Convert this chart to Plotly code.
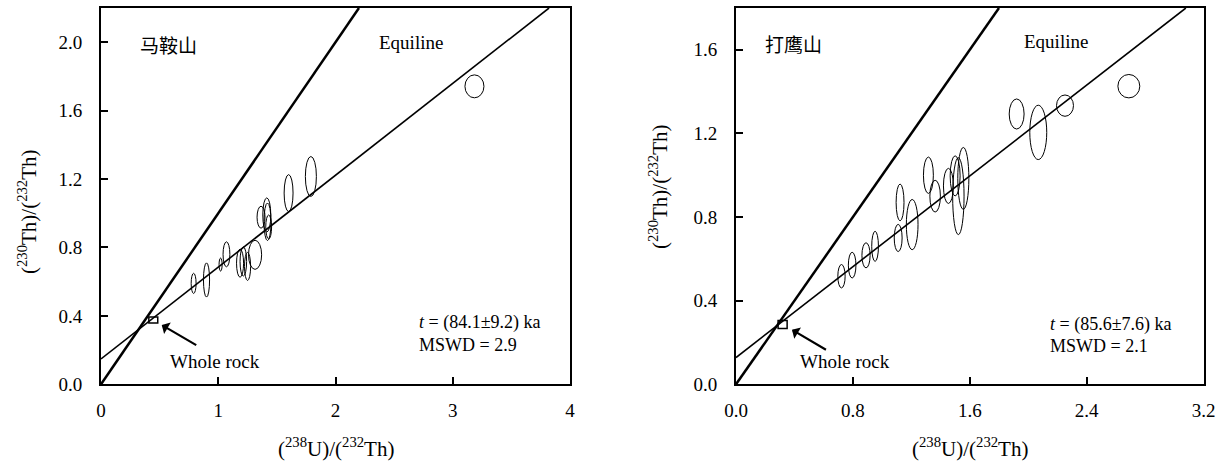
import plotly.graph_objects as go

# ---------------- data ----------------
# Left panel: 马鞍山
left_x  = [0.79, 0.90, 1.02, 1.07, 1.186, 1.214, 1.25, 1.314, 1.365, 1.414, 1.42, 1.43, 1.60, 1.79, 3.185]
left_y  = [0.59, 0.61, 0.70, 0.76, 0.708, 0.718, 0.689, 0.757, 0.977, 0.99, 0.95, 0.92, 1.118, 1.215, 1.742]
left_ex = [0.021, 0.026, 0.013, 0.029, 0.030, 0.028, 0.026, 0.056, 0.034, 0.034, 0.030, 0.025, 0.038, 0.047, 0.081]
left_ey = [0.059, 0.100, 0.038, 0.073, 0.082, 0.085, 0.082, 0.085, 0.064, 0.100, 0.110, 0.070, 0.108, 0.117, 0.067]
left_wr = (0.446, 0.376)      # whole rock
left_wr_err = (0.038, 0.018)
left_intercept = 0.148
left_slope = 0.537

# Right panel: 打鹰山
right_x  = [0.722, 0.795, 0.89, 0.952, 1.123, 1.11, 1.206, 1.317, 1.363, 1.454, 1.50, 1.522, 1.556, 1.921, 2.069, 2.252, 2.689]
right_y  = [0.517, 0.570, 0.617, 0.660, 0.870, 0.700, 0.764, 1.000, 0.900, 0.949, 0.997, 0.900, 0.985, 1.293, 1.205, 1.333, 1.426]
right_ex = [0.025, 0.026, 0.028, 0.023, 0.027, 0.027, 0.040, 0.034, 0.036, 0.034, 0.034, 0.039, 0.038, 0.051, 0.058, 0.058, 0.075]
right_ey = [0.056, 0.0615, 0.060, 0.072, 0.088, 0.065, 0.120, 0.087, 0.076, 0.084, 0.096, 0.184, 0.148, 0.072, 0.130, 0.051, 0.056]
right_wr = (0.319, 0.286)
right_wr_err = (0.031, 0.019)
right_intercept = 0.128
right_slope = 0.543

left_xticks = [0, 1, 2, 3, 4]
left_xticktext = ["0", "1", "2", "3", "4"]
left_yticks = [0.0, 0.4, 0.8, 1.2, 1.6, 2.0]
right_xticks = [0.0, 0.8, 1.6, 2.4, 3.2]
right_yticks = [0.0, 0.4, 0.8, 1.2, 1.6]

left_range_x = [0, 4]
left_range_y = [0, 2.2]
right_range_x = [0, 3.2]
right_range_y = [0, 1.8]

left_title = "马鞍山"
right_title = "打鹰山"
left_age = "<i>t</i> = (84.1±9.2) ka"
left_mswd = "MSWD = 2.9"
right_age = "<i>t</i> = (85.6±7.6) ka"
right_mswd = "MSWD = 2.1"
xlab = "(<sup>238</sup>U)/(<sup>232</sup>Th)"
ylab = "(<sup>230</sup>Th)/(<sup>232</sup>Th)"

# ---------------- figure ----------------
W, H = 1227, 462
SERIF = "Times New Roman, Liberation Serif, serif"
FS = 19

fig = go.Figure()

def add_panel(xa, ya, xr, yr, intercept, slope, xs, ys, exs, eys, wr, wr_err):
    xref, yref = xa, ya
    emax = min(xr[1], yr[1])
    fig.add_trace(go.Scatter(x=[0, emax], y=[0, emax], mode="lines",
                             line=dict(color="black", width=2.5),
                             xaxis=xa, yaxis=ya, showlegend=False, hoverinfo="skip"))
    xend = min(xr[1], (yr[1] - intercept) / slope)
    fig.add_trace(go.Scatter(x=[0, xend], y=[intercept, intercept + slope * xend], mode="lines",
                             line=dict(color="black", width=1.6),
                             xaxis=xa, yaxis=ya, showlegend=False, hoverinfo="skip"))
    for x, y, ex, ey in zip(xs, ys, exs, eys):
        fig.add_shape(type="circle", xref=xref, yref=yref,
                      x0=x - ex, x1=x + ex, y0=y - ey, y1=y + ey,
                      line=dict(color="black", width=1))
    fig.add_shape(type="rect", xref=xref, yref=yref,
                  x0=wr[0] - wr_err[0], x1=wr[0] + wr_err[0],
                  y0=wr[1] - wr_err[1], y1=wr[1] + wr_err[1],
                  line=dict(color="black", width=1.5))

add_panel("x", "y", left_range_x, left_range_y, left_intercept, left_slope,
          left_x, left_y, left_ex, left_ey, left_wr, left_wr_err)
add_panel("x2", "y2", right_range_x, right_range_y, right_intercept, right_slope,
          right_x, right_y, right_ex, right_ey, right_wr, right_wr_err)

axis_common = dict(showgrid=False, zeroline=False, showline=True, linecolor="black",
                   linewidth=2, mirror=True, ticks="inside", ticklen=7, tickwidth=1.5,
                   tickcolor="black", automargin=False,
                   tickfont=dict(family=SERIF, size=FS, color="black"))

fig.update_layout(
    width=W, height=H, margin=dict(l=0, r=0, t=0, b=0, autoexpand=False),
    paper_bgcolor="white", plot_bgcolor="white", showlegend=False,
    xaxis=dict(domain=[101 / W, 570 / W], range=left_range_x, tickvals=left_xticks,
               ticktext=left_xticktext, anchor="y", ticklabelstandoff=8, **axis_common),
    yaxis=dict(domain=[(H - 384.3) / H, (H - 8) / H], range=left_range_y, tickvals=left_yticks,
               ticktext=[f"{v:.1f}" for v in left_yticks], anchor="x", ticklabelstandoff=13, **axis_common),
    xaxis2=dict(domain=[736 / W, 1203.5 / W], range=right_range_x, tickvals=right_xticks,
                ticktext=[f"{v:.1f}" for v in right_xticks], anchor="y2", ticklabelstandoff=8, **axis_common),
    yaxis2=dict(domain=[(H - 384.3) / H, (H - 8) / H], range=right_range_y, tickvals=right_yticks,
                ticktext=[f"{v:.1f}" for v in right_yticks], anchor="x2", ticklabelstandoff=13, **axis_common),
)

font = dict(family=SERIF, size=FS, color="black")
small = dict(family=SERIF, size=18, color="black")
title_font = dict(family=SERIF, size=21, color="black")
cjk = dict(family="Noto Sans CJK SC", size=19, color="black")

def ann(text, x, y, xref, yref, xanchor="left", f=font, angle=0):
    fig.add_annotation(text=text, x=x, y=y, xref=xref, yref=yref, showarrow=False,
                       xanchor=xanchor, yanchor="middle", font=f, textangle=angle)

ann(left_title, 0.316, 1.987, "x", "y", f=cjk)
ann("Equiline", 2.645, 1.998, "x", "y", xanchor="center")
ann(left_age, 2.694, 0.359, "x", "y", f=small)
ann(left_mswd, 2.694, 0.230, "x", "y", f=small)
ann("Whole rock", 0.574, 0.132, "x", "y")
fig.add_annotation(x=0.518, y=0.347, ax=0.825, ay=0.224, xref="x", yref="y", axref="x", ayref="y",
                   showarrow=True, arrowhead=1, arrowsize=1, arrowwidth=2.2, arrowcolor="black", text="")

ann(right_title, 0.187, 1.629, "x2", "y2", f=cjk)
ann("Equiline", 2.19, 1.639, "x2", "y2", xanchor="center")
ann(right_age, 2.137, 0.286, "x2", "y2", f=small)
ann(right_mswd, 2.137, 0.181, "x2", "y2", f=small)
ann("Whole rock", 0.421, 0.1085, "x2", "y2")
fig.add_annotation(x=0.383, y=0.261, ax=0.626, ay=0.161, xref="x2", yref="y2", axref="x2", ayref="y2",
                   showarrow=True, arrowhead=1, arrowsize=1, arrowwidth=2.2, arrowcolor="black", text="")

ann(xlab, 335.5 / W, (H - 447) / H, "paper", "paper", xanchor="center", f=title_font)
ann(xlab, 970 / W, (H - 447) / H, "paper", "paper", xanchor="center", f=title_font)
ann(ylab, 27 / W, (H - 212) / H, "paper", "paper", xanchor="center", f=title_font, angle=-90)
ann(ylab, 658 / W, (H - 187) / H, "paper", "paper", xanchor="center", f=title_font, angle=-90)

fig.write_html("out.html")
